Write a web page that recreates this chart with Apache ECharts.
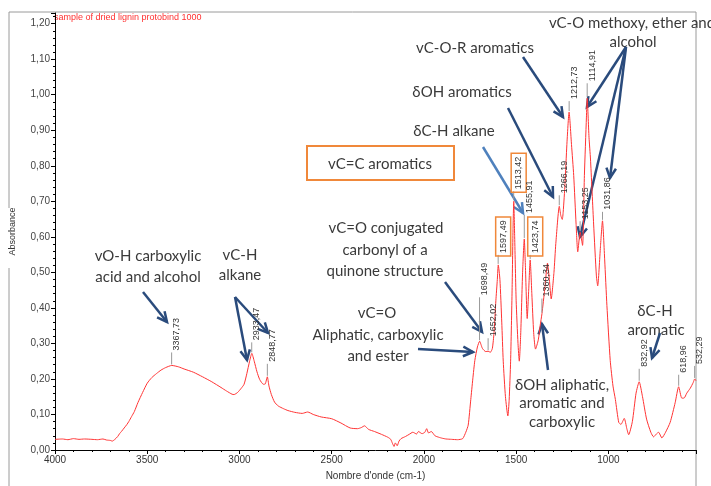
<!DOCTYPE html>
<html>
<head>
<meta charset="utf-8">
<script src="https://cdn.jsdelivr.net/npm/echarts@6/dist/echarts.min.js"></script>
<style>
  html, body { margin: 0; padding: 0; background: #fff; }
  #chart { width: 711px; height: 486px; }
</style>
</head>
<body>
<div id="chart"></div>
<script>
// spectrum (wavenumber cm-1 / absorbance)
const specWn = [
  4000, 3960, 3930, 3900, 3870, 3840, 3800, 3770, 3740, 3720, 3700, 3690, 3675, 3660, 3650, 3640,
  3625, 3610, 3600, 3585, 3570, 3550, 3525, 3500, 3475, 3450, 3425, 3400, 3367, 3330, 3300, 3250,
  3200, 3150, 3100, 3070, 3040, 3030, 3010, 2990, 2975, 2960, 2945, 2933, 2920, 2905, 2890, 2870,
  2860, 2849, 2840, 2827, 2810, 2790, 2760, 2737, 2700, 2660, 2630, 2600, 2557, 2500, 2450, 2400,
  2360, 2340, 2322, 2300, 2268, 2230, 2196, 2180, 2170, 2162, 2155, 2145, 2135, 2124, 2100, 2080,
  2060, 2040, 2030, 2010, 1995, 1985, 1975, 1960, 1940, 1920, 1900, 1880, 1850, 1818, 1790, 1773,
  1760, 1746, 1735, 1724, 1710, 1698, 1683, 1665, 1652, 1640, 1629, 1620, 1610, 1602, 1597, 1588,
  1578, 1570, 1558, 1545, 1538, 1530, 1522, 1517, 1513, 1508, 1500, 1490, 1483, 1475, 1465, 1456,
  1450, 1440, 1432, 1424, 1415, 1405, 1395, 1380, 1370, 1360, 1345, 1330, 1320, 1310, 1295, 1285,
  1266, 1258, 1250, 1245, 1235, 1225, 1213, 1200, 1188, 1175, 1166, 1153, 1140, 1130, 1119, 1115,
  1105, 1097, 1080, 1065, 1058, 1043, 1032, 1020, 1008, 990, 975, 962, 944, 932, 914, 900,
  890, 870, 850, 833, 815, 793, 770, 755, 740, 728, 710, 690, 665, 638, 619, 602,
  590, 575, 556, 540, 532, 525
];
const specAbs = [
  0.030, 0.031, 0.029, 0.032, 0.030, 0.031, 0.030, 0.029, 0.031, 0.028, 0.027, 0.025, 0.030, 0.038, 0.046, 0.052,
  0.062, 0.072, 0.080, 0.094, 0.108, 0.134, 0.162, 0.188, 0.204, 0.215, 0.225, 0.232, 0.238, 0.234, 0.228, 0.219,
  0.206, 0.192, 0.176, 0.166, 0.157, 0.156, 0.162, 0.174, 0.185, 0.215, 0.250, 0.272, 0.250, 0.220, 0.198, 0.185,
  0.186, 0.206, 0.180, 0.156, 0.135, 0.124, 0.116, 0.111, 0.106, 0.103, 0.107, 0.100, 0.093, 0.088, 0.076, 0.062,
  0.060, 0.063, 0.068, 0.058, 0.052, 0.044, 0.036, 0.030, 0.018, 0.010, 0.020, 0.012, 0.025, 0.032, 0.038, 0.044,
  0.050, 0.045, 0.052, 0.046, 0.050, 0.060, 0.048, 0.052, 0.040, 0.036, 0.033, 0.031, 0.030, 0.029, 0.032, 0.050,
  0.070, 0.142, 0.200, 0.252, 0.290, 0.306, 0.286, 0.277, 0.278, 0.275, 0.286, 0.330, 0.420, 0.480, 0.521, 0.480,
  0.360, 0.250, 0.150, 0.096, 0.140, 0.250, 0.450, 0.620, 0.700, 0.600, 0.420, 0.300, 0.250, 0.330, 0.500, 0.594,
  0.520, 0.370, 0.450, 0.535, 0.440, 0.330, 0.284, 0.310, 0.350, 0.384, 0.453, 0.526, 0.480, 0.425, 0.500, 0.581,
  0.686, 0.660, 0.649, 0.670, 0.750, 0.860, 0.951, 0.860, 0.773, 0.635, 0.558, 0.613, 0.576, 0.773, 0.937, 0.990,
  0.880, 0.819, 0.636, 0.490, 0.462, 0.572, 0.645, 0.535, 0.407, 0.252, 0.180, 0.142, 0.078, 0.072, 0.089, 0.060,
  0.043, 0.080, 0.160, 0.192, 0.150, 0.087, 0.050, 0.037, 0.045, 0.050, 0.034, 0.050, 0.078, 0.133, 0.178, 0.146,
  0.146, 0.160, 0.174, 0.190, 0.200, 0.195
];

// picked peaks
const peakWn = [3367.73, 2933.47, 2848.77, 1698.49, 1652.02, 1597.49, 1513.42, 1455.91, 1423.74, 1360.34,
  1266.19, 1212.73, 1153.25, 1114.91, 1031.86, 832.92, 618.96, 532.29];
const peakAbs = [0.238, 0.272, 0.206, 0.306, 0.278, 0.521, 0.700, 0.594, 0.535, 0.384,
  0.686, 0.951, 0.613, 0.990, 0.645, 0.192, 0.178, 0.200];
const peakText = ['3367,73', '2933,47', '2848,77', '1698,49', '1652,02', '1597,49', '1513,42', '1455,91', '1423,74', '1360,34',
  '1266,19', '1212,73', '1153,25', '1114,91', '1031,86', '832,92', '618,96', '532,29'];

// layout of the peak markers (line length in px), and which ones are boxed
const peakLift = [12, 10, 12, 43, 12, 9, 9, 23, 4, 14, 10, 10, 10, 14, 8, 12, 11, 12];
const boxedPeaks = ['1597,49', '1513,42', '1423,74'];

const yTicks = [0, 1.23, 0.1];
const xRange = [525, 4000];

const navy = '#2a4b7c';
const txt = '#3a3a3a';
const annFont = '15px Lato';

function arrow(x1, y1, x2, y2, color) {
  const a = Math.atan2(y2 - y1, x2 - x1);
  const L = 11, s = 0.45;
  const c = color || navy;
  return [
    { type: 'line', shape: { x1, y1, x2, y2 }, style: { stroke: c, lineWidth: 2.5 } },
    { type: 'polyline', shape: { points: [
        [x2 - L * Math.cos(a - s), y2 - L * Math.sin(a - s)], [x2, y2],
        [x2 - L * Math.cos(a + s), y2 - L * Math.sin(a + s)]] },
      style: { stroke: c, lineWidth: 2.5, fill: null } }
  ];
}

function label(text, x, y) {
  return { type: 'text', x, y, style: { text, font: annFont, fill: txt, align: 'center', verticalAlign: 'middle' } };
}

const chart = echarts.init(document.getElementById('chart'));

const graphics = [
  // outer frame
  { type: 'polyline', shape: { points: [[9, 486], [9, 12], [696, 12], [696, 486]] }, style: { stroke: '#9a9a9a', lineWidth: 1, fill: null } },
  { type: 'rect', shape: { x: 5, y: 208, width: 8, height: 60 }, style: { fill: '#fff' } },
  { type: 'text', x: 54, y: 18, style: { text: 'sample of dried lignin protobind 1000', font: '9px Arial', fill: '#ff3030', align: 'left', verticalAlign: 'middle' } },

  label('vO-H carboxylic', 148, 256), label('acid and alcohol', 148, 277),
  label('vC-H', 240, 255), label('alkane', 240, 275),
  label('vC=O conjugated', 386, 228), label('carbonyl of a', 385, 250), label('quinone structure', 385, 271),
  label('vC=O', 377, 313), label('Aliphatic, carboxylic', 378, 335), label('and ester', 378, 356),
  { type: 'rect', shape: { x: 307, y: 146, width: 147, height: 34 }, style: { stroke: '#f0883a', lineWidth: 2, fill: null } },
  label('vC=C aromatics', 380, 164),
  label('δC-H alkane', 454, 131),
  label('δOH aromatics', 462, 92),
  label('vC-O-R aromatics', 475, 48),
  label('vC-O methoxy, ether and', 632, 23), label('alcohol', 633, 42),
  label('δC-H', 655, 311), label('aromatic', 656, 330),
  label('δOH aliphatic,', 562, 385), label('aromatic and', 562, 403), label('carboxylic', 562, 422)
].concat(
  arrow(143, 292, 167, 322),
  arrow(235, 297, 247, 360),
  arrow(235, 297, 268, 333),
  arrow(445, 282, 482, 332),
  arrow(418, 349, 473, 352),
  arrow(523, 57, 563, 117),
  arrow(508, 108, 553, 197),
  arrow(483, 147, 523, 213, '#4f81bd'),
  arrow(626, 47, 587, 107),
  arrow(626, 47, 580, 237),
  arrow(626, 47, 610, 178),
  arrow(660, 333, 652, 358),
  arrow(548, 370, 542, 324)
);

chart.setOption({
  animation: false,
  grid: { left: 53, right: 15, top: 13, bottom: 24 },
  xAxis: {
    type: 'value',
    inverse: true,
    min: xRange[0],
    max: xRange[1],
    splitNumber: 7,
    name: "Nombre d'onde (cm-1)",
    nameLocation: 'middle',
    nameGap: 21,
    nameTextStyle: { color: '#333', fontSize: 10, fontFamily: 'Arial' },
    axisLine: { lineStyle: { color: '#000', width: 1 } },
    axisTick: { length: 4, lineStyle: { color: '#000' } },
    minorTick: { show: true, splitNumber: 5, length: 2, lineStyle: { color: '#000' } },
    splitLine: { show: false },
    axisLabel: {
      color: '#333', fontSize: 10, fontFamily: 'Arial', margin: 5,
      formatter: v => (v % 500 === 0 ? String(v) : '')
    }
  },
  yAxis: {
    type: 'value',
    min: yTicks[0],
    max: yTicks[1],
    interval: yTicks[2],
    name: 'Absorbance',
    nameLocation: 'middle',
    nameGap: 38,
    nameTextStyle: { color: '#333', fontSize: 9, fontFamily: 'Arial' },
    axisLine: { show: true, lineStyle: { color: '#000', width: 1 } },
    axisTick: { show: true, length: 4, lineStyle: { color: '#000' } },
    minorTick: { show: true, splitNumber: 5, length: 2, lineStyle: { color: '#000' } },
    splitLine: { show: false },
    axisLabel: {
      color: '#444', fontSize: 10, fontFamily: 'Arial', margin: 5,
      formatter: v => (Math.abs(v * 10 - Math.round(v * 10)) < 1e-6 ? v.toFixed(2).replace('.', ',') : '')
    }
  },
  series: [
    {
      type: 'line',
      data: specWn.map((w, i) => [w, specAbs[i]]),
      showSymbol: false,
      smooth: 0.2,
      lineStyle: { color: '#ff3333', width: 1 },
      z: 2
    },
    {
      type: 'custom',
      clip: false,
      z: 3,
      data: peakWn.map((w, i) => [w, peakAbs[i]]),
      renderItem: function (params, api) {
        const i = params.dataIndex;
        const p = api.coord([api.value(0), api.value(1)]);
        const lift = peakLift[i];
        const top = p[1] - 1 - lift;
        const kids = [
          { type: 'line', shape: { x1: p[0], y1: p[1] - 1, x2: p[0], y2: top }, style: { stroke: '#999', lineWidth: 1 } },
          { type: 'text', x: p[0] + 5, y: top - 2, rotation: Math.PI / 2,
            style: { text: peakText[i], font: '9px Arial', fill: '#333', align: 'left', verticalAlign: 'middle' } }
        ];
        if (boxedPeaks.indexOf(peakText[i]) >= 0) {
          kids.push({ type: 'rect', x: p[0] + 5, y: top - 2, rotation: Math.PI / 2,
            shape: { x: -3, y: -7.5, width: 39, height: 15 },
            style: { stroke: '#f0883a', lineWidth: 1.5, fill: null } });
        }
        return { type: 'group', children: kids };
      }
    }
  ],
  graphic: graphics
});
</script>
</body>
</html>
